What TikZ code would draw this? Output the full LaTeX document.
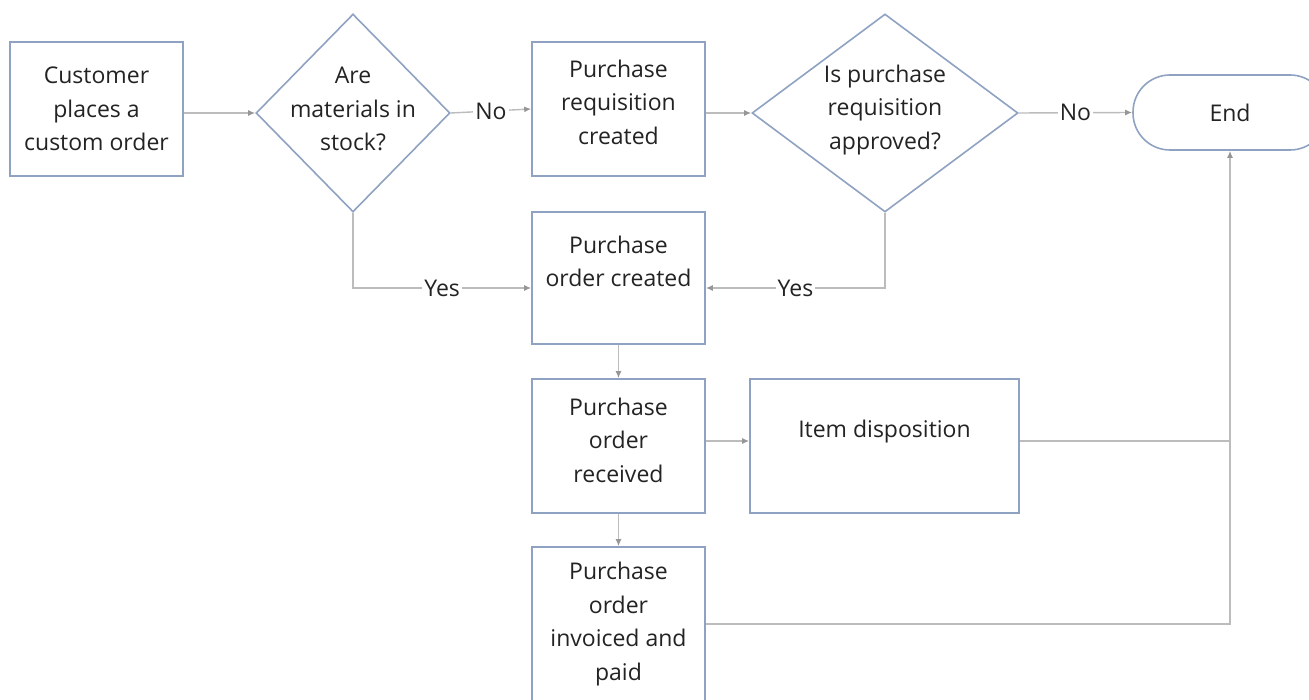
\documentclass[tikz,border=0pt]{standalone}
\usepackage{fontspec}
\setmainfont{Open Sans}
\usetikzlibrary{shapes.geometric,arrows.meta,calc}
\definecolor{boxline}{RGB}{143,162,194}
\definecolor{connline}{RGB}{188,188,188}
\definecolor{tiptone}{RGB}{150,150,150}
\definecolor{inktone}{RGB}{35,35,35}

\begin{document}
\begin{tikzpicture}[x=1pt,y=1pt,yscale=-1,xscale=1,
  font=\fontsize{23}{33.5}\selectfont, text=inktone,
  procbox/.style={draw=boxline, line width=1.6pt, rectangle, minimum width=173pt, minimum height=134pt, align=center, inner sep=0pt},
  decide/.style={draw=boxline, line width=1.6pt, diamond, inner sep=0pt, minimum height=198pt},
  terminal/.style={draw=boxline, line width=1.6pt, rectangle, rounded corners=37pt, minimum width=194pt, minimum height=75pt},
  conn/.style={draw=connline, line width=1.4pt, -{Latex[length=7pt,width=6pt,color=tiptone]}},
  plain/.style={draw=connline, line width=1.4pt},
  tag/.style={fill=white, inner sep=2pt}]
%set diagram frame 1309 x 700
\useasboundingbox (0,0) rectangle (1309,700);
\clip (0,0) rectangle (1309,700);
\fill[white] (0,0) rectangle (1309,700);

%Shapes: top row
\node[procbox] (cust) at (96.5,109) {Customer\\places a\\custom order};
\node[decide, minimum width=194pt, label={[align=center]center:Are\\materials in\\stock?\\[-25.5pt]\mbox{}}] (stock) at (353,113) {};
\node[procbox] (req) at (618.5,109) {Purchase\\requisition\\created\\[-19.5pt]\mbox{}};
\node[decide, minimum width=266pt, label={[align=center]center:Is purchase\\requisition\\approved?\\[-21.5pt]\mbox{}}] (appr) at (885,113) {};
\node[terminal] (end) at (1230,112.5) {End};

%Shapes: middle column
\node[procbox, minimum height=132pt] (po) at (618.5,278) {Purchase\\order created\\ \mbox{}};
\node[procbox] (recv) at (618.5,446) {Purchase\\order\\received\\[-21.5pt]\mbox{}};
\node[procbox, minimum width=269pt] (disp) at (884.5,446) {Item disposition\\ \mbox{}};
\node[procbox, minimum height=154pt] (inv) at (618.5,624) {Purchase\\order\\invoiced and\\paid};

%Connectors
\draw[conn] (cust.east |- stock) -- (stock.west);
\draw[conn] (stock.east) -- node[tag] {No} (req.west);
\draw[conn] (req.east |- appr) -- (appr.west);
\draw[conn] (appr.east) -- node[tag] {No} (end.west);
\draw[conn] (stock.south) |- node[tag, pos=0.75] {Yes} ($(po.west)+(0,10)$);
\draw[conn] (appr.south) |- node[tag, pos=0.75] {Yes} ($(po.east)+(0,10)$);
\draw[conn] (po.south) -- (recv.north);
\draw[conn] ($(recv.east)+(0,-5)$) -- ($(disp.west)+(0,-5)$);
\draw[conn] (recv.south) -- (inv.north);
\coordinate (join) at ($(end.south |- disp.east)+(0,-5)$);
\draw[plain] ($(disp.east)+(0,-5)$) -- (join);
\draw[conn] (inv.east) -| (end.south);

\end{tikzpicture}
\end{document}
